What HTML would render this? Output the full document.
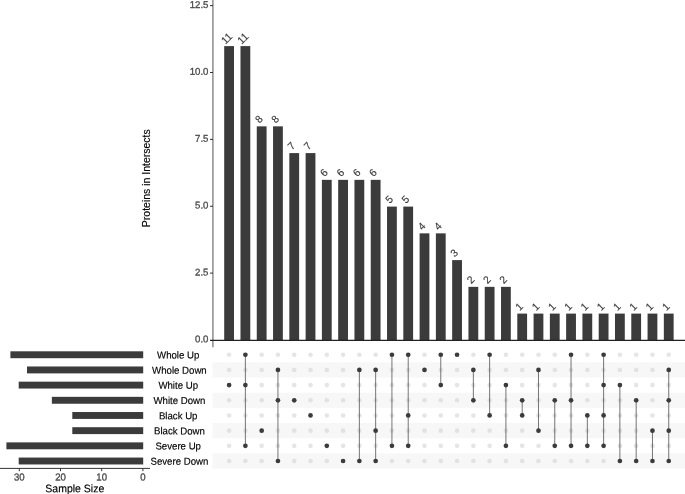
<!DOCTYPE html>
<html><head><meta charset="utf-8"><title>UpSet plot</title>
<style>html,body{margin:0;padding:0;background:#fff}svg{display:block}</style></head>
<body>
<svg width="685" height="494" viewBox="0 0 685 494" font-family="Liberation Sans, sans-serif">
<rect width="685" height="494" fill="#fff"/>
<rect x="212.5" y="362.34" width="472.5" height="15.18" fill="#f7f7f7"/>
<rect x="212.5" y="392.70" width="472.5" height="15.18" fill="#f7f7f7"/>
<rect x="212.5" y="423.06" width="472.5" height="15.18" fill="#f7f7f7"/>
<rect x="212.5" y="453.42" width="472.5" height="15.18" fill="#f7f7f7"/>
<circle cx="229.10" cy="354.75" r="2.3" fill="#d4d4d4" fill-opacity="0.6"/>
<circle cx="229.10" cy="369.93" r="2.3" fill="#d4d4d4" fill-opacity="0.6"/>
<circle cx="229.10" cy="400.29" r="2.3" fill="#d4d4d4" fill-opacity="0.6"/>
<circle cx="229.10" cy="415.47" r="2.3" fill="#d4d4d4" fill-opacity="0.6"/>
<circle cx="229.10" cy="430.65" r="2.3" fill="#d4d4d4" fill-opacity="0.6"/>
<circle cx="229.10" cy="445.83" r="2.3" fill="#d4d4d4" fill-opacity="0.6"/>
<circle cx="229.10" cy="461.01" r="2.3" fill="#d4d4d4" fill-opacity="0.6"/>
<circle cx="245.38" cy="369.93" r="2.3" fill="#d4d4d4" fill-opacity="0.6"/>
<circle cx="245.38" cy="400.29" r="2.3" fill="#d4d4d4" fill-opacity="0.6"/>
<circle cx="245.38" cy="415.47" r="2.3" fill="#d4d4d4" fill-opacity="0.6"/>
<circle cx="245.38" cy="430.65" r="2.3" fill="#d4d4d4" fill-opacity="0.6"/>
<circle cx="245.38" cy="461.01" r="2.3" fill="#d4d4d4" fill-opacity="0.6"/>
<circle cx="261.67" cy="354.75" r="2.3" fill="#d4d4d4" fill-opacity="0.6"/>
<circle cx="261.67" cy="369.93" r="2.3" fill="#d4d4d4" fill-opacity="0.6"/>
<circle cx="261.67" cy="385.11" r="2.3" fill="#d4d4d4" fill-opacity="0.6"/>
<circle cx="261.67" cy="400.29" r="2.3" fill="#d4d4d4" fill-opacity="0.6"/>
<circle cx="261.67" cy="415.47" r="2.3" fill="#d4d4d4" fill-opacity="0.6"/>
<circle cx="261.67" cy="445.83" r="2.3" fill="#d4d4d4" fill-opacity="0.6"/>
<circle cx="261.67" cy="461.01" r="2.3" fill="#d4d4d4" fill-opacity="0.6"/>
<circle cx="277.95" cy="354.75" r="2.3" fill="#d4d4d4" fill-opacity="0.6"/>
<circle cx="277.95" cy="385.11" r="2.3" fill="#d4d4d4" fill-opacity="0.6"/>
<circle cx="277.95" cy="415.47" r="2.3" fill="#d4d4d4" fill-opacity="0.6"/>
<circle cx="277.95" cy="430.65" r="2.3" fill="#d4d4d4" fill-opacity="0.6"/>
<circle cx="277.95" cy="445.83" r="2.3" fill="#d4d4d4" fill-opacity="0.6"/>
<circle cx="294.23" cy="354.75" r="2.3" fill="#d4d4d4" fill-opacity="0.6"/>
<circle cx="294.23" cy="369.93" r="2.3" fill="#d4d4d4" fill-opacity="0.6"/>
<circle cx="294.23" cy="385.11" r="2.3" fill="#d4d4d4" fill-opacity="0.6"/>
<circle cx="294.23" cy="415.47" r="2.3" fill="#d4d4d4" fill-opacity="0.6"/>
<circle cx="294.23" cy="430.65" r="2.3" fill="#d4d4d4" fill-opacity="0.6"/>
<circle cx="294.23" cy="445.83" r="2.3" fill="#d4d4d4" fill-opacity="0.6"/>
<circle cx="294.23" cy="461.01" r="2.3" fill="#d4d4d4" fill-opacity="0.6"/>
<circle cx="310.51" cy="354.75" r="2.3" fill="#d4d4d4" fill-opacity="0.6"/>
<circle cx="310.51" cy="369.93" r="2.3" fill="#d4d4d4" fill-opacity="0.6"/>
<circle cx="310.51" cy="385.11" r="2.3" fill="#d4d4d4" fill-opacity="0.6"/>
<circle cx="310.51" cy="400.29" r="2.3" fill="#d4d4d4" fill-opacity="0.6"/>
<circle cx="310.51" cy="430.65" r="2.3" fill="#d4d4d4" fill-opacity="0.6"/>
<circle cx="310.51" cy="445.83" r="2.3" fill="#d4d4d4" fill-opacity="0.6"/>
<circle cx="310.51" cy="461.01" r="2.3" fill="#d4d4d4" fill-opacity="0.6"/>
<circle cx="326.80" cy="354.75" r="2.3" fill="#d4d4d4" fill-opacity="0.6"/>
<circle cx="326.80" cy="369.93" r="2.3" fill="#d4d4d4" fill-opacity="0.6"/>
<circle cx="326.80" cy="385.11" r="2.3" fill="#d4d4d4" fill-opacity="0.6"/>
<circle cx="326.80" cy="400.29" r="2.3" fill="#d4d4d4" fill-opacity="0.6"/>
<circle cx="326.80" cy="415.47" r="2.3" fill="#d4d4d4" fill-opacity="0.6"/>
<circle cx="326.80" cy="430.65" r="2.3" fill="#d4d4d4" fill-opacity="0.6"/>
<circle cx="326.80" cy="461.01" r="2.3" fill="#d4d4d4" fill-opacity="0.6"/>
<circle cx="343.08" cy="354.75" r="2.3" fill="#d4d4d4" fill-opacity="0.6"/>
<circle cx="343.08" cy="369.93" r="2.3" fill="#d4d4d4" fill-opacity="0.6"/>
<circle cx="343.08" cy="385.11" r="2.3" fill="#d4d4d4" fill-opacity="0.6"/>
<circle cx="343.08" cy="400.29" r="2.3" fill="#d4d4d4" fill-opacity="0.6"/>
<circle cx="343.08" cy="415.47" r="2.3" fill="#d4d4d4" fill-opacity="0.6"/>
<circle cx="343.08" cy="430.65" r="2.3" fill="#d4d4d4" fill-opacity="0.6"/>
<circle cx="343.08" cy="445.83" r="2.3" fill="#d4d4d4" fill-opacity="0.6"/>
<circle cx="359.36" cy="354.75" r="2.3" fill="#d4d4d4" fill-opacity="0.6"/>
<circle cx="359.36" cy="385.11" r="2.3" fill="#d4d4d4" fill-opacity="0.6"/>
<circle cx="359.36" cy="400.29" r="2.3" fill="#d4d4d4" fill-opacity="0.6"/>
<circle cx="359.36" cy="415.47" r="2.3" fill="#d4d4d4" fill-opacity="0.6"/>
<circle cx="359.36" cy="430.65" r="2.3" fill="#d4d4d4" fill-opacity="0.6"/>
<circle cx="359.36" cy="445.83" r="2.3" fill="#d4d4d4" fill-opacity="0.6"/>
<circle cx="375.65" cy="354.75" r="2.3" fill="#d4d4d4" fill-opacity="0.6"/>
<circle cx="375.65" cy="385.11" r="2.3" fill="#d4d4d4" fill-opacity="0.6"/>
<circle cx="375.65" cy="400.29" r="2.3" fill="#d4d4d4" fill-opacity="0.6"/>
<circle cx="375.65" cy="415.47" r="2.3" fill="#d4d4d4" fill-opacity="0.6"/>
<circle cx="375.65" cy="445.83" r="2.3" fill="#d4d4d4" fill-opacity="0.6"/>
<circle cx="391.93" cy="369.93" r="2.3" fill="#d4d4d4" fill-opacity="0.6"/>
<circle cx="391.93" cy="385.11" r="2.3" fill="#d4d4d4" fill-opacity="0.6"/>
<circle cx="391.93" cy="400.29" r="2.3" fill="#d4d4d4" fill-opacity="0.6"/>
<circle cx="391.93" cy="415.47" r="2.3" fill="#d4d4d4" fill-opacity="0.6"/>
<circle cx="391.93" cy="430.65" r="2.3" fill="#d4d4d4" fill-opacity="0.6"/>
<circle cx="391.93" cy="461.01" r="2.3" fill="#d4d4d4" fill-opacity="0.6"/>
<circle cx="408.21" cy="369.93" r="2.3" fill="#d4d4d4" fill-opacity="0.6"/>
<circle cx="408.21" cy="385.11" r="2.3" fill="#d4d4d4" fill-opacity="0.6"/>
<circle cx="408.21" cy="400.29" r="2.3" fill="#d4d4d4" fill-opacity="0.6"/>
<circle cx="408.21" cy="430.65" r="2.3" fill="#d4d4d4" fill-opacity="0.6"/>
<circle cx="408.21" cy="461.01" r="2.3" fill="#d4d4d4" fill-opacity="0.6"/>
<circle cx="424.50" cy="354.75" r="2.3" fill="#d4d4d4" fill-opacity="0.6"/>
<circle cx="424.50" cy="385.11" r="2.3" fill="#d4d4d4" fill-opacity="0.6"/>
<circle cx="424.50" cy="400.29" r="2.3" fill="#d4d4d4" fill-opacity="0.6"/>
<circle cx="424.50" cy="415.47" r="2.3" fill="#d4d4d4" fill-opacity="0.6"/>
<circle cx="424.50" cy="430.65" r="2.3" fill="#d4d4d4" fill-opacity="0.6"/>
<circle cx="424.50" cy="445.83" r="2.3" fill="#d4d4d4" fill-opacity="0.6"/>
<circle cx="424.50" cy="461.01" r="2.3" fill="#d4d4d4" fill-opacity="0.6"/>
<circle cx="440.78" cy="369.93" r="2.3" fill="#d4d4d4" fill-opacity="0.6"/>
<circle cx="440.78" cy="400.29" r="2.3" fill="#d4d4d4" fill-opacity="0.6"/>
<circle cx="440.78" cy="415.47" r="2.3" fill="#d4d4d4" fill-opacity="0.6"/>
<circle cx="440.78" cy="430.65" r="2.3" fill="#d4d4d4" fill-opacity="0.6"/>
<circle cx="440.78" cy="445.83" r="2.3" fill="#d4d4d4" fill-opacity="0.6"/>
<circle cx="440.78" cy="461.01" r="2.3" fill="#d4d4d4" fill-opacity="0.6"/>
<circle cx="457.06" cy="369.93" r="2.3" fill="#d4d4d4" fill-opacity="0.6"/>
<circle cx="457.06" cy="385.11" r="2.3" fill="#d4d4d4" fill-opacity="0.6"/>
<circle cx="457.06" cy="400.29" r="2.3" fill="#d4d4d4" fill-opacity="0.6"/>
<circle cx="457.06" cy="415.47" r="2.3" fill="#d4d4d4" fill-opacity="0.6"/>
<circle cx="457.06" cy="430.65" r="2.3" fill="#d4d4d4" fill-opacity="0.6"/>
<circle cx="457.06" cy="445.83" r="2.3" fill="#d4d4d4" fill-opacity="0.6"/>
<circle cx="457.06" cy="461.01" r="2.3" fill="#d4d4d4" fill-opacity="0.6"/>
<circle cx="473.35" cy="354.75" r="2.3" fill="#d4d4d4" fill-opacity="0.6"/>
<circle cx="473.35" cy="385.11" r="2.3" fill="#d4d4d4" fill-opacity="0.6"/>
<circle cx="473.35" cy="415.47" r="2.3" fill="#d4d4d4" fill-opacity="0.6"/>
<circle cx="473.35" cy="430.65" r="2.3" fill="#d4d4d4" fill-opacity="0.6"/>
<circle cx="473.35" cy="445.83" r="2.3" fill="#d4d4d4" fill-opacity="0.6"/>
<circle cx="473.35" cy="461.01" r="2.3" fill="#d4d4d4" fill-opacity="0.6"/>
<circle cx="489.63" cy="369.93" r="2.3" fill="#d4d4d4" fill-opacity="0.6"/>
<circle cx="489.63" cy="385.11" r="2.3" fill="#d4d4d4" fill-opacity="0.6"/>
<circle cx="489.63" cy="400.29" r="2.3" fill="#d4d4d4" fill-opacity="0.6"/>
<circle cx="489.63" cy="430.65" r="2.3" fill="#d4d4d4" fill-opacity="0.6"/>
<circle cx="489.63" cy="445.83" r="2.3" fill="#d4d4d4" fill-opacity="0.6"/>
<circle cx="489.63" cy="461.01" r="2.3" fill="#d4d4d4" fill-opacity="0.6"/>
<circle cx="505.91" cy="354.75" r="2.3" fill="#d4d4d4" fill-opacity="0.6"/>
<circle cx="505.91" cy="369.93" r="2.3" fill="#d4d4d4" fill-opacity="0.6"/>
<circle cx="505.91" cy="400.29" r="2.3" fill="#d4d4d4" fill-opacity="0.6"/>
<circle cx="505.91" cy="415.47" r="2.3" fill="#d4d4d4" fill-opacity="0.6"/>
<circle cx="505.91" cy="430.65" r="2.3" fill="#d4d4d4" fill-opacity="0.6"/>
<circle cx="505.91" cy="461.01" r="2.3" fill="#d4d4d4" fill-opacity="0.6"/>
<circle cx="522.19" cy="354.75" r="2.3" fill="#d4d4d4" fill-opacity="0.6"/>
<circle cx="522.19" cy="369.93" r="2.3" fill="#d4d4d4" fill-opacity="0.6"/>
<circle cx="522.19" cy="385.11" r="2.3" fill="#d4d4d4" fill-opacity="0.6"/>
<circle cx="522.19" cy="430.65" r="2.3" fill="#d4d4d4" fill-opacity="0.6"/>
<circle cx="522.19" cy="445.83" r="2.3" fill="#d4d4d4" fill-opacity="0.6"/>
<circle cx="522.19" cy="461.01" r="2.3" fill="#d4d4d4" fill-opacity="0.6"/>
<circle cx="538.48" cy="354.75" r="2.3" fill="#d4d4d4" fill-opacity="0.6"/>
<circle cx="538.48" cy="385.11" r="2.3" fill="#d4d4d4" fill-opacity="0.6"/>
<circle cx="538.48" cy="400.29" r="2.3" fill="#d4d4d4" fill-opacity="0.6"/>
<circle cx="538.48" cy="415.47" r="2.3" fill="#d4d4d4" fill-opacity="0.6"/>
<circle cx="538.48" cy="445.83" r="2.3" fill="#d4d4d4" fill-opacity="0.6"/>
<circle cx="538.48" cy="461.01" r="2.3" fill="#d4d4d4" fill-opacity="0.6"/>
<circle cx="554.76" cy="354.75" r="2.3" fill="#d4d4d4" fill-opacity="0.6"/>
<circle cx="554.76" cy="369.93" r="2.3" fill="#d4d4d4" fill-opacity="0.6"/>
<circle cx="554.76" cy="385.11" r="2.3" fill="#d4d4d4" fill-opacity="0.6"/>
<circle cx="554.76" cy="415.47" r="2.3" fill="#d4d4d4" fill-opacity="0.6"/>
<circle cx="554.76" cy="430.65" r="2.3" fill="#d4d4d4" fill-opacity="0.6"/>
<circle cx="554.76" cy="461.01" r="2.3" fill="#d4d4d4" fill-opacity="0.6"/>
<circle cx="571.04" cy="369.93" r="2.3" fill="#d4d4d4" fill-opacity="0.6"/>
<circle cx="571.04" cy="385.11" r="2.3" fill="#d4d4d4" fill-opacity="0.6"/>
<circle cx="571.04" cy="415.47" r="2.3" fill="#d4d4d4" fill-opacity="0.6"/>
<circle cx="571.04" cy="430.65" r="2.3" fill="#d4d4d4" fill-opacity="0.6"/>
<circle cx="571.04" cy="461.01" r="2.3" fill="#d4d4d4" fill-opacity="0.6"/>
<circle cx="587.33" cy="354.75" r="2.3" fill="#d4d4d4" fill-opacity="0.6"/>
<circle cx="587.33" cy="369.93" r="2.3" fill="#d4d4d4" fill-opacity="0.6"/>
<circle cx="587.33" cy="385.11" r="2.3" fill="#d4d4d4" fill-opacity="0.6"/>
<circle cx="587.33" cy="400.29" r="2.3" fill="#d4d4d4" fill-opacity="0.6"/>
<circle cx="587.33" cy="430.65" r="2.3" fill="#d4d4d4" fill-opacity="0.6"/>
<circle cx="587.33" cy="461.01" r="2.3" fill="#d4d4d4" fill-opacity="0.6"/>
<circle cx="603.61" cy="369.93" r="2.3" fill="#d4d4d4" fill-opacity="0.6"/>
<circle cx="603.61" cy="400.29" r="2.3" fill="#d4d4d4" fill-opacity="0.6"/>
<circle cx="603.61" cy="430.65" r="2.3" fill="#d4d4d4" fill-opacity="0.6"/>
<circle cx="603.61" cy="461.01" r="2.3" fill="#d4d4d4" fill-opacity="0.6"/>
<circle cx="619.89" cy="354.75" r="2.3" fill="#d4d4d4" fill-opacity="0.6"/>
<circle cx="619.89" cy="369.93" r="2.3" fill="#d4d4d4" fill-opacity="0.6"/>
<circle cx="619.89" cy="400.29" r="2.3" fill="#d4d4d4" fill-opacity="0.6"/>
<circle cx="619.89" cy="415.47" r="2.3" fill="#d4d4d4" fill-opacity="0.6"/>
<circle cx="619.89" cy="430.65" r="2.3" fill="#d4d4d4" fill-opacity="0.6"/>
<circle cx="619.89" cy="445.83" r="2.3" fill="#d4d4d4" fill-opacity="0.6"/>
<circle cx="636.18" cy="354.75" r="2.3" fill="#d4d4d4" fill-opacity="0.6"/>
<circle cx="636.18" cy="369.93" r="2.3" fill="#d4d4d4" fill-opacity="0.6"/>
<circle cx="636.18" cy="385.11" r="2.3" fill="#d4d4d4" fill-opacity="0.6"/>
<circle cx="636.18" cy="415.47" r="2.3" fill="#d4d4d4" fill-opacity="0.6"/>
<circle cx="636.18" cy="430.65" r="2.3" fill="#d4d4d4" fill-opacity="0.6"/>
<circle cx="636.18" cy="445.83" r="2.3" fill="#d4d4d4" fill-opacity="0.6"/>
<circle cx="652.46" cy="354.75" r="2.3" fill="#d4d4d4" fill-opacity="0.6"/>
<circle cx="652.46" cy="369.93" r="2.3" fill="#d4d4d4" fill-opacity="0.6"/>
<circle cx="652.46" cy="385.11" r="2.3" fill="#d4d4d4" fill-opacity="0.6"/>
<circle cx="652.46" cy="400.29" r="2.3" fill="#d4d4d4" fill-opacity="0.6"/>
<circle cx="652.46" cy="415.47" r="2.3" fill="#d4d4d4" fill-opacity="0.6"/>
<circle cx="652.46" cy="445.83" r="2.3" fill="#d4d4d4" fill-opacity="0.6"/>
<circle cx="668.74" cy="354.75" r="2.3" fill="#d4d4d4" fill-opacity="0.6"/>
<circle cx="668.74" cy="385.11" r="2.3" fill="#d4d4d4" fill-opacity="0.6"/>
<circle cx="668.74" cy="415.47" r="2.3" fill="#d4d4d4" fill-opacity="0.6"/>
<circle cx="668.74" cy="445.83" r="2.3" fill="#d4d4d4" fill-opacity="0.6"/>
<line x1="245.38" x2="245.38" y1="354.75" y2="445.83" stroke="#3b3b3b" stroke-width="0.7"/>
<line x1="277.95" x2="277.95" y1="369.93" y2="461.01" stroke="#3b3b3b" stroke-width="0.7"/>
<line x1="359.36" x2="359.36" y1="369.93" y2="461.01" stroke="#3b3b3b" stroke-width="0.7"/>
<line x1="375.65" x2="375.65" y1="369.93" y2="461.01" stroke="#3b3b3b" stroke-width="0.7"/>
<line x1="391.93" x2="391.93" y1="354.75" y2="445.83" stroke="#3b3b3b" stroke-width="0.7"/>
<line x1="408.21" x2="408.21" y1="354.75" y2="445.83" stroke="#3b3b3b" stroke-width="0.7"/>
<line x1="440.78" x2="440.78" y1="354.75" y2="385.11" stroke="#3b3b3b" stroke-width="0.7"/>
<line x1="473.35" x2="473.35" y1="369.93" y2="400.29" stroke="#3b3b3b" stroke-width="0.7"/>
<line x1="489.63" x2="489.63" y1="354.75" y2="415.47" stroke="#3b3b3b" stroke-width="0.7"/>
<line x1="505.91" x2="505.91" y1="385.11" y2="445.83" stroke="#3b3b3b" stroke-width="0.7"/>
<line x1="522.19" x2="522.19" y1="400.29" y2="415.47" stroke="#3b3b3b" stroke-width="0.7"/>
<line x1="538.48" x2="538.48" y1="369.93" y2="430.65" stroke="#3b3b3b" stroke-width="0.7"/>
<line x1="554.76" x2="554.76" y1="400.29" y2="445.83" stroke="#3b3b3b" stroke-width="0.7"/>
<line x1="571.04" x2="571.04" y1="354.75" y2="445.83" stroke="#3b3b3b" stroke-width="0.7"/>
<line x1="587.33" x2="587.33" y1="415.47" y2="445.83" stroke="#3b3b3b" stroke-width="0.7"/>
<line x1="603.61" x2="603.61" y1="354.75" y2="445.83" stroke="#3b3b3b" stroke-width="0.7"/>
<line x1="619.89" x2="619.89" y1="385.11" y2="461.01" stroke="#3b3b3b" stroke-width="0.7"/>
<line x1="636.18" x2="636.18" y1="400.29" y2="461.01" stroke="#3b3b3b" stroke-width="0.7"/>
<line x1="652.46" x2="652.46" y1="430.65" y2="461.01" stroke="#3b3b3b" stroke-width="0.7"/>
<line x1="668.74" x2="668.74" y1="369.93" y2="461.01" stroke="#3b3b3b" stroke-width="0.7"/>
<circle cx="229.10" cy="385.11" r="2.35" fill="#3b3b3b"/>
<circle cx="245.38" cy="354.75" r="2.35" fill="#3b3b3b"/>
<circle cx="245.38" cy="385.11" r="2.35" fill="#3b3b3b"/>
<circle cx="245.38" cy="445.83" r="2.35" fill="#3b3b3b"/>
<circle cx="261.67" cy="430.65" r="2.35" fill="#3b3b3b"/>
<circle cx="277.95" cy="369.93" r="2.35" fill="#3b3b3b"/>
<circle cx="277.95" cy="400.29" r="2.35" fill="#3b3b3b"/>
<circle cx="277.95" cy="461.01" r="2.35" fill="#3b3b3b"/>
<circle cx="294.23" cy="400.29" r="2.35" fill="#3b3b3b"/>
<circle cx="310.51" cy="415.47" r="2.35" fill="#3b3b3b"/>
<circle cx="326.80" cy="445.83" r="2.35" fill="#3b3b3b"/>
<circle cx="343.08" cy="461.01" r="2.35" fill="#3b3b3b"/>
<circle cx="359.36" cy="369.93" r="2.35" fill="#3b3b3b"/>
<circle cx="359.36" cy="461.01" r="2.35" fill="#3b3b3b"/>
<circle cx="375.65" cy="369.93" r="2.35" fill="#3b3b3b"/>
<circle cx="375.65" cy="430.65" r="2.35" fill="#3b3b3b"/>
<circle cx="375.65" cy="461.01" r="2.35" fill="#3b3b3b"/>
<circle cx="391.93" cy="354.75" r="2.35" fill="#3b3b3b"/>
<circle cx="391.93" cy="445.83" r="2.35" fill="#3b3b3b"/>
<circle cx="408.21" cy="354.75" r="2.35" fill="#3b3b3b"/>
<circle cx="408.21" cy="415.47" r="2.35" fill="#3b3b3b"/>
<circle cx="408.21" cy="445.83" r="2.35" fill="#3b3b3b"/>
<circle cx="424.50" cy="369.93" r="2.35" fill="#3b3b3b"/>
<circle cx="440.78" cy="354.75" r="2.35" fill="#3b3b3b"/>
<circle cx="440.78" cy="385.11" r="2.35" fill="#3b3b3b"/>
<circle cx="457.06" cy="354.75" r="2.35" fill="#3b3b3b"/>
<circle cx="473.35" cy="369.93" r="2.35" fill="#3b3b3b"/>
<circle cx="473.35" cy="400.29" r="2.35" fill="#3b3b3b"/>
<circle cx="489.63" cy="354.75" r="2.35" fill="#3b3b3b"/>
<circle cx="489.63" cy="415.47" r="2.35" fill="#3b3b3b"/>
<circle cx="505.91" cy="385.11" r="2.35" fill="#3b3b3b"/>
<circle cx="505.91" cy="445.83" r="2.35" fill="#3b3b3b"/>
<circle cx="522.19" cy="400.29" r="2.35" fill="#3b3b3b"/>
<circle cx="522.19" cy="415.47" r="2.35" fill="#3b3b3b"/>
<circle cx="538.48" cy="369.93" r="2.35" fill="#3b3b3b"/>
<circle cx="538.48" cy="430.65" r="2.35" fill="#3b3b3b"/>
<circle cx="554.76" cy="400.29" r="2.35" fill="#3b3b3b"/>
<circle cx="554.76" cy="445.83" r="2.35" fill="#3b3b3b"/>
<circle cx="571.04" cy="354.75" r="2.35" fill="#3b3b3b"/>
<circle cx="571.04" cy="400.29" r="2.35" fill="#3b3b3b"/>
<circle cx="571.04" cy="445.83" r="2.35" fill="#3b3b3b"/>
<circle cx="587.33" cy="415.47" r="2.35" fill="#3b3b3b"/>
<circle cx="587.33" cy="445.83" r="2.35" fill="#3b3b3b"/>
<circle cx="603.61" cy="354.75" r="2.35" fill="#3b3b3b"/>
<circle cx="603.61" cy="385.11" r="2.35" fill="#3b3b3b"/>
<circle cx="603.61" cy="415.47" r="2.35" fill="#3b3b3b"/>
<circle cx="603.61" cy="445.83" r="2.35" fill="#3b3b3b"/>
<circle cx="619.89" cy="385.11" r="2.35" fill="#3b3b3b"/>
<circle cx="619.89" cy="461.01" r="2.35" fill="#3b3b3b"/>
<circle cx="636.18" cy="400.29" r="2.35" fill="#3b3b3b"/>
<circle cx="636.18" cy="461.01" r="2.35" fill="#3b3b3b"/>
<circle cx="652.46" cy="430.65" r="2.35" fill="#3b3b3b"/>
<circle cx="652.46" cy="461.01" r="2.35" fill="#3b3b3b"/>
<circle cx="668.74" cy="369.93" r="2.35" fill="#3b3b3b"/>
<circle cx="668.74" cy="400.29" r="2.35" fill="#3b3b3b"/>
<circle cx="668.74" cy="430.65" r="2.35" fill="#3b3b3b"/>
<circle cx="668.74" cy="461.01" r="2.35" fill="#3b3b3b"/>
<rect x="224.20" y="46.10" width="9.8" height="293.90" fill="#3b3b3b"/>
<text font-size="10.2" fill="#3b3b3b" stroke="#3b3b3b" stroke-width="0.15" text-anchor="middle" transform="translate(229.30 41.10) rotate(-45) scale(1 1.04)">11</text>
<rect x="240.48" y="46.10" width="9.8" height="293.90" fill="#3b3b3b"/>
<text font-size="10.2" fill="#3b3b3b" stroke="#3b3b3b" stroke-width="0.15" text-anchor="middle" transform="translate(245.58 41.10) rotate(-45) scale(1 1.04)">11</text>
<rect x="256.77" y="126.35" width="9.8" height="213.65" fill="#3b3b3b"/>
<text font-size="10.2" fill="#3b3b3b" stroke="#3b3b3b" stroke-width="0.15" text-anchor="middle" transform="translate(261.47 121.75) rotate(-45) scale(1 1.04)">8</text>
<rect x="273.05" y="126.35" width="9.8" height="213.65" fill="#3b3b3b"/>
<text font-size="10.2" fill="#3b3b3b" stroke="#3b3b3b" stroke-width="0.15" text-anchor="middle" transform="translate(277.75 121.75) rotate(-45) scale(1 1.04)">8</text>
<rect x="289.33" y="153.10" width="9.8" height="186.90" fill="#3b3b3b"/>
<text font-size="10.2" fill="#3b3b3b" stroke="#3b3b3b" stroke-width="0.15" text-anchor="middle" transform="translate(294.03 148.50) rotate(-45) scale(1 1.04)">7</text>
<rect x="305.62" y="153.10" width="9.8" height="186.90" fill="#3b3b3b"/>
<text font-size="10.2" fill="#3b3b3b" stroke="#3b3b3b" stroke-width="0.15" text-anchor="middle" transform="translate(310.31 148.50) rotate(-45) scale(1 1.04)">7</text>
<rect x="321.90" y="179.85" width="9.8" height="160.15" fill="#3b3b3b"/>
<text font-size="10.2" fill="#3b3b3b" stroke="#3b3b3b" stroke-width="0.15" text-anchor="middle" transform="translate(326.60 175.25) rotate(-45) scale(1 1.04)">6</text>
<rect x="338.18" y="179.85" width="9.8" height="160.15" fill="#3b3b3b"/>
<text font-size="10.2" fill="#3b3b3b" stroke="#3b3b3b" stroke-width="0.15" text-anchor="middle" transform="translate(342.88 175.25) rotate(-45) scale(1 1.04)">6</text>
<rect x="354.46" y="179.85" width="9.8" height="160.15" fill="#3b3b3b"/>
<text font-size="10.2" fill="#3b3b3b" stroke="#3b3b3b" stroke-width="0.15" text-anchor="middle" transform="translate(359.16 175.25) rotate(-45) scale(1 1.04)">6</text>
<rect x="370.75" y="179.85" width="9.8" height="160.15" fill="#3b3b3b"/>
<text font-size="10.2" fill="#3b3b3b" stroke="#3b3b3b" stroke-width="0.15" text-anchor="middle" transform="translate(375.45 175.25) rotate(-45) scale(1 1.04)">6</text>
<rect x="387.03" y="206.60" width="9.8" height="133.40" fill="#3b3b3b"/>
<text font-size="10.2" fill="#3b3b3b" stroke="#3b3b3b" stroke-width="0.15" text-anchor="middle" transform="translate(391.73 202.00) rotate(-45) scale(1 1.04)">5</text>
<rect x="403.31" y="206.60" width="9.8" height="133.40" fill="#3b3b3b"/>
<text font-size="10.2" fill="#3b3b3b" stroke="#3b3b3b" stroke-width="0.15" text-anchor="middle" transform="translate(408.01 202.00) rotate(-45) scale(1 1.04)">5</text>
<rect x="419.60" y="233.35" width="9.8" height="106.65" fill="#3b3b3b"/>
<text font-size="10.2" fill="#3b3b3b" stroke="#3b3b3b" stroke-width="0.15" text-anchor="middle" transform="translate(424.30 228.75) rotate(-45) scale(1 1.04)">4</text>
<rect x="435.88" y="233.35" width="9.8" height="106.65" fill="#3b3b3b"/>
<text font-size="10.2" fill="#3b3b3b" stroke="#3b3b3b" stroke-width="0.15" text-anchor="middle" transform="translate(440.58 228.75) rotate(-45) scale(1 1.04)">4</text>
<rect x="452.16" y="260.10" width="9.8" height="79.90" fill="#3b3b3b"/>
<text font-size="10.2" fill="#3b3b3b" stroke="#3b3b3b" stroke-width="0.15" text-anchor="middle" transform="translate(456.86 255.50) rotate(-45) scale(1 1.04)">3</text>
<rect x="468.45" y="286.85" width="9.8" height="53.15" fill="#3b3b3b"/>
<text font-size="10.2" fill="#3b3b3b" stroke="#3b3b3b" stroke-width="0.15" text-anchor="middle" transform="translate(473.15 282.25) rotate(-45) scale(1 1.04)">2</text>
<rect x="484.73" y="286.85" width="9.8" height="53.15" fill="#3b3b3b"/>
<text font-size="10.2" fill="#3b3b3b" stroke="#3b3b3b" stroke-width="0.15" text-anchor="middle" transform="translate(489.43 282.25) rotate(-45) scale(1 1.04)">2</text>
<rect x="501.01" y="286.85" width="9.8" height="53.15" fill="#3b3b3b"/>
<text font-size="10.2" fill="#3b3b3b" stroke="#3b3b3b" stroke-width="0.15" text-anchor="middle" transform="translate(505.71 282.25) rotate(-45) scale(1 1.04)">2</text>
<rect x="517.29" y="313.60" width="9.8" height="26.40" fill="#3b3b3b"/>
<text font-size="10.2" fill="#3b3b3b" stroke="#3b3b3b" stroke-width="0.15" text-anchor="middle" transform="translate(521.84 309.15) rotate(-45) scale(1 1.04)">1</text>
<rect x="533.58" y="313.60" width="9.8" height="26.40" fill="#3b3b3b"/>
<text font-size="10.2" fill="#3b3b3b" stroke="#3b3b3b" stroke-width="0.15" text-anchor="middle" transform="translate(538.13 309.15) rotate(-45) scale(1 1.04)">1</text>
<rect x="549.86" y="313.60" width="9.8" height="26.40" fill="#3b3b3b"/>
<text font-size="10.2" fill="#3b3b3b" stroke="#3b3b3b" stroke-width="0.15" text-anchor="middle" transform="translate(554.41 309.15) rotate(-45) scale(1 1.04)">1</text>
<rect x="566.14" y="313.60" width="9.8" height="26.40" fill="#3b3b3b"/>
<text font-size="10.2" fill="#3b3b3b" stroke="#3b3b3b" stroke-width="0.15" text-anchor="middle" transform="translate(570.69 309.15) rotate(-45) scale(1 1.04)">1</text>
<rect x="582.43" y="313.60" width="9.8" height="26.40" fill="#3b3b3b"/>
<text font-size="10.2" fill="#3b3b3b" stroke="#3b3b3b" stroke-width="0.15" text-anchor="middle" transform="translate(586.98 309.15) rotate(-45) scale(1 1.04)">1</text>
<rect x="598.71" y="313.60" width="9.8" height="26.40" fill="#3b3b3b"/>
<text font-size="10.2" fill="#3b3b3b" stroke="#3b3b3b" stroke-width="0.15" text-anchor="middle" transform="translate(603.26 309.15) rotate(-45) scale(1 1.04)">1</text>
<rect x="614.99" y="313.60" width="9.8" height="26.40" fill="#3b3b3b"/>
<text font-size="10.2" fill="#3b3b3b" stroke="#3b3b3b" stroke-width="0.15" text-anchor="middle" transform="translate(619.54 309.15) rotate(-45) scale(1 1.04)">1</text>
<rect x="631.28" y="313.60" width="9.8" height="26.40" fill="#3b3b3b"/>
<text font-size="10.2" fill="#3b3b3b" stroke="#3b3b3b" stroke-width="0.15" text-anchor="middle" transform="translate(635.83 309.15) rotate(-45) scale(1 1.04)">1</text>
<rect x="647.56" y="313.60" width="9.8" height="26.40" fill="#3b3b3b"/>
<text font-size="10.2" fill="#3b3b3b" stroke="#3b3b3b" stroke-width="0.15" text-anchor="middle" transform="translate(652.11 309.15) rotate(-45) scale(1 1.04)">1</text>
<rect x="663.84" y="313.60" width="9.8" height="26.40" fill="#3b3b3b"/>
<text font-size="10.2" fill="#3b3b3b" stroke="#3b3b3b" stroke-width="0.15" text-anchor="middle" transform="translate(668.39 309.15) rotate(-45) scale(1 1.04)">1</text>
<line x1="212.9" x2="212.9" y1="0" y2="347.2" stroke="#8c8c8c" stroke-width="1.5"/>
<line x1="210" x2="685" y1="340.35" y2="340.35" stroke="#222" stroke-width="1.3"/>
<text font-size="9.6" fill="#4a4a4a" stroke="#4a4a4a" stroke-width="0.3" text-anchor="end" transform="translate(208.40 342.31) rotate(0.04) scale(1 1.02)">0.0</text>
<line x1="210" x2="213" y1="273.12" y2="273.12" stroke="#333" stroke-width="1"/>
<text font-size="9.6" fill="#4a4a4a" stroke="#4a4a4a" stroke-width="0.3" text-anchor="end" transform="translate(208.40 275.43) rotate(0.04) scale(1 1.02)">2.5</text>
<line x1="210" x2="213" y1="206.25" y2="206.25" stroke="#333" stroke-width="1"/>
<text font-size="9.6" fill="#4a4a4a" stroke="#4a4a4a" stroke-width="0.3" text-anchor="end" transform="translate(208.40 208.56) rotate(0.04) scale(1 1.02)">5.0</text>
<line x1="210" x2="213" y1="139.38" y2="139.38" stroke="#333" stroke-width="1"/>
<text font-size="9.6" fill="#4a4a4a" stroke="#4a4a4a" stroke-width="0.3" text-anchor="end" transform="translate(208.40 141.68) rotate(0.04) scale(1 1.02)">7.5</text>
<line x1="210" x2="213" y1="72.50" y2="72.50" stroke="#333" stroke-width="1"/>
<text font-size="9.6" fill="#4a4a4a" stroke="#4a4a4a" stroke-width="0.3" text-anchor="end" transform="translate(208.40 74.81) rotate(0.04) scale(1 1.02)">10.0</text>
<line x1="210" x2="213" y1="5.62" y2="5.62" stroke="#333" stroke-width="1"/>
<text font-size="9.6" fill="#4a4a4a" stroke="#4a4a4a" stroke-width="0.3" text-anchor="end" transform="translate(208.40 7.93) rotate(0.04) scale(1 1.02)">12.5</text>
<text font-size="10.5" fill="#000" stroke="#000" stroke-width="0.15" text-anchor="middle" transform="translate(149.65 178.20) rotate(-90) scale(1 1.05)">Proteins in Intersects</text>
<rect x="10.40" y="351.30" width="132.80" height="6.9" fill="#3b3b3b"/>
<text font-size="9.65" fill="#000" stroke="#000" stroke-width="0.15" text-anchor="middle" transform="translate(178.20 358.48) rotate(0.04) scale(1 1.05)">Whole Up</text>
<rect x="27.00" y="366.48" width="116.20" height="6.9" fill="#3b3b3b"/>
<text font-size="9.65" fill="#000" stroke="#000" stroke-width="0.15" text-anchor="middle" transform="translate(179.40 373.66) rotate(0.04) scale(1 1.05)">Whole Down</text>
<rect x="18.70" y="381.66" width="124.50" height="6.9" fill="#3b3b3b"/>
<text font-size="9.65" fill="#000" stroke="#000" stroke-width="0.15" text-anchor="middle" transform="translate(178.20 388.84) rotate(0.04) scale(1 1.05)">White Up</text>
<rect x="51.85" y="396.84" width="91.35" height="6.9" fill="#3b3b3b"/>
<text font-size="9.65" fill="#000" stroke="#000" stroke-width="0.15" text-anchor="middle" transform="translate(179.40 404.02) rotate(0.04) scale(1 1.05)">White Down</text>
<rect x="72.30" y="412.02" width="70.90" height="6.9" fill="#3b3b3b"/>
<text font-size="9.65" fill="#000" stroke="#000" stroke-width="0.15" text-anchor="middle" transform="translate(178.20 419.20) rotate(0.04) scale(1 1.05)">Black Up</text>
<rect x="72.30" y="427.20" width="70.90" height="6.9" fill="#3b3b3b"/>
<text font-size="9.65" fill="#000" stroke="#000" stroke-width="0.15" text-anchor="middle" transform="translate(179.40 434.38) rotate(0.04) scale(1 1.05)">Black Down</text>
<rect x="6.40" y="442.38" width="136.80" height="6.9" fill="#3b3b3b"/>
<text font-size="9.65" fill="#000" stroke="#000" stroke-width="0.15" text-anchor="middle" transform="translate(178.20 449.56) rotate(0.04) scale(1 1.05)">Severe Up</text>
<rect x="18.70" y="457.56" width="124.50" height="6.9" fill="#3b3b3b"/>
<text font-size="9.65" fill="#000" stroke="#000" stroke-width="0.15" text-anchor="middle" transform="translate(179.40 464.74) rotate(0.04) scale(1 1.05)">Severe Down</text>
<line x1="0" x2="150" y1="468.4" y2="468.4" stroke="#333" stroke-width="1"/>
<line x1="142.90" x2="142.90" y1="468.4" y2="471.2" stroke="#333" stroke-width="1"/>
<text font-size="9.6" fill="#4a4a4a" stroke="#4a4a4a" stroke-width="0.3" text-anchor="middle" transform="translate(142.90 480.51) rotate(0.04) scale(1 1.05)">0</text>
<line x1="101.70" x2="101.70" y1="468.4" y2="471.2" stroke="#333" stroke-width="1"/>
<text font-size="9.6" fill="#4a4a4a" stroke="#4a4a4a" stroke-width="0.3" text-anchor="middle" transform="translate(101.70 480.51) rotate(0.04) scale(1 1.05)">10</text>
<line x1="60.50" x2="60.50" y1="468.4" y2="471.2" stroke="#333" stroke-width="1"/>
<text font-size="9.6" fill="#4a4a4a" stroke="#4a4a4a" stroke-width="0.3" text-anchor="middle" transform="translate(60.50 480.51) rotate(0.04) scale(1 1.05)">20</text>
<line x1="19.30" x2="19.30" y1="468.4" y2="471.2" stroke="#333" stroke-width="1"/>
<text font-size="9.6" fill="#4a4a4a" stroke="#4a4a4a" stroke-width="0.3" text-anchor="middle" transform="translate(19.30 480.51) rotate(0.04) scale(1 1.05)">30</text>
<text font-size="10.5" fill="#000" stroke="#000" stroke-width="0.15" text-anchor="middle" transform="translate(74.80 492.35) rotate(0.04) scale(1 1.05)">Sample Size</text>
</svg>
</body></html>
